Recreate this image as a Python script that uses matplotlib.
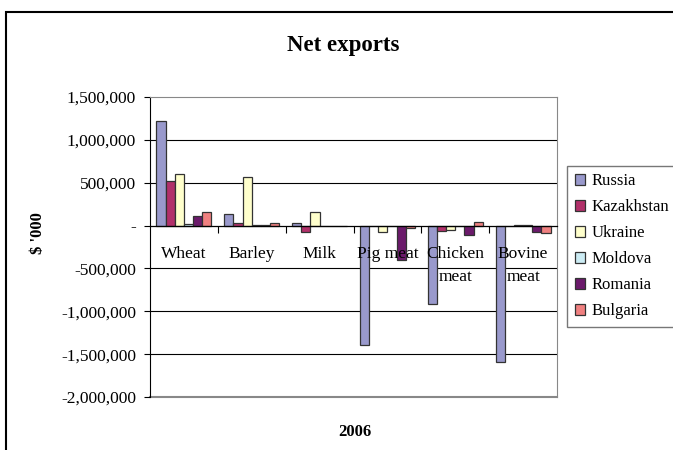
import matplotlib
matplotlib.use("Agg")
import matplotlib.pyplot as plt
import numpy as np
from matplotlib.patches import Rectangle
from matplotlib.ticker import FuncFormatter, FixedLocator

plt.rcParams['font.family'] = ['Liberation Serif', 'DejaVu Serif']

categories = ["Wheat", "Barley", "Milk", "Pig meat", "Chicken\nmeat", "Bovine\nmeat"]
countries = ["Russia", "Kazakhstan", "Ukraine", "Moldova", "Romania", "Bulgaria"]
russia     = [1218000, 136000, 30000, -1390000, -910000, -1595000]
kazakhstan = [525000, 30000, -75000, -5000, -66000, -10000]
ukraine    = [603000, 564000, 158000, -70000, -55000, 10000]
moldova    = [20000, 5000, -3000, -5000, 0, 5000]
romania    = [108000, 5000, -10000, -405000, -108000, -74000]
bulgaria   = [160000, 25000, -10000, -27000, 43000, -85000]
series = [russia, kazakhstan, ukraine, moldova, romania, bulgaria]
colors = ["#9999CC", "#B2306A", "#FFFFCC", "#CCECF4", "#6B1A6B", "#F08080"]

fig = plt.figure(figsize=(6.73, 4.5), dpi=100)
ax = fig.add_axes([150/673, 1-397/450, 407/673, 300/450])

n = len(categories)
x = np.arange(n)
bw = 0.135
for i, (vals, c, name) in enumerate(zip(series, colors, countries)):
    ax.bar(x - 2.5*bw + i*bw, vals, width=bw, color=c, edgecolor="#333333",
           linewidth=0.9, label=name, zorder=3)

ax.set_xlim(-0.5, n - 0.5)
ax.set_ylim(-2000000, 1500000)
ax.set_yticks(np.arange(-2000000, 1500001, 500000))
ax.yaxis.set_major_formatter(FuncFormatter(lambda v, p: '-' if v == 0 else f'{v:,.0f}'))
ax.tick_params(axis='y', labelsize=12.5, length=4, direction='out', width=0.8, pad=6)

for yv in np.arange(-1500000, 1500000, 500000):
    if yv != 0:
        ax.axhline(yv, color='black', lw=0.8, zorder=1)

ax.spines['bottom'].set_position(('data', 0))
ax.spines['bottom'].set_color('black')
ax.spines['bottom'].set_linewidth(0.9)
ax.spines['bottom'].set_zorder(4)
ax.spines['left'].set_color('black')
ax.spines['top'].set_color('#888888')
ax.spines['right'].set_color('#888888')
ax.axhline(-2000000, color='#888888', lw=1.5, zorder=1, clip_on=False)

ax.set_xticks(x)
ax.set_xticklabels(categories, fontsize=12.5, linespacing=1.55)
ax.xaxis.set_minor_locator(FixedLocator(np.arange(0.5, n - 0.5, 1)))
ax.tick_params(axis='x', which='major', length=0, pad=15)
ax.tick_params(axis='x', which='minor', length=5, direction='out', width=0.8)
for lbl in ax.get_xticklabels():
    lbl.set_verticalalignment('top')
ax.xaxis.set_zorder(5)

fig.text(343/673, 1-45/450, "Net exports", ha='center', va='center',
         fontsize=16.5, fontweight='bold')
fig.text(38/673, 1-233/450, "$ '000", ha='center', va='center',
         fontsize=12, fontweight='bold', rotation=90)
fig.text(355/673, 1-432/450, "2006", ha='center', va='center',
         fontsize=12, fontweight='bold')

leg = fig.legend(loc='upper left', bbox_to_anchor=(567/673, 1-166/450),
                 fontsize=12, frameon=True, fancybox=False, edgecolor='#555555',
                 handlelength=0.65, handleheight=0.65, handletextpad=0.35,
                 labelspacing=0.6, borderpad=0.45, borderaxespad=0)
leg.get_frame().set_linewidth(1.0)

fig.patches.append(Rectangle((6/673, -0.05), 1.2, 1-12/450 + 0.05,
                             transform=fig.transFigure, fill=False,
                             edgecolor='black', lw=1.5))

fig.savefig("out.png", dpi=100)
